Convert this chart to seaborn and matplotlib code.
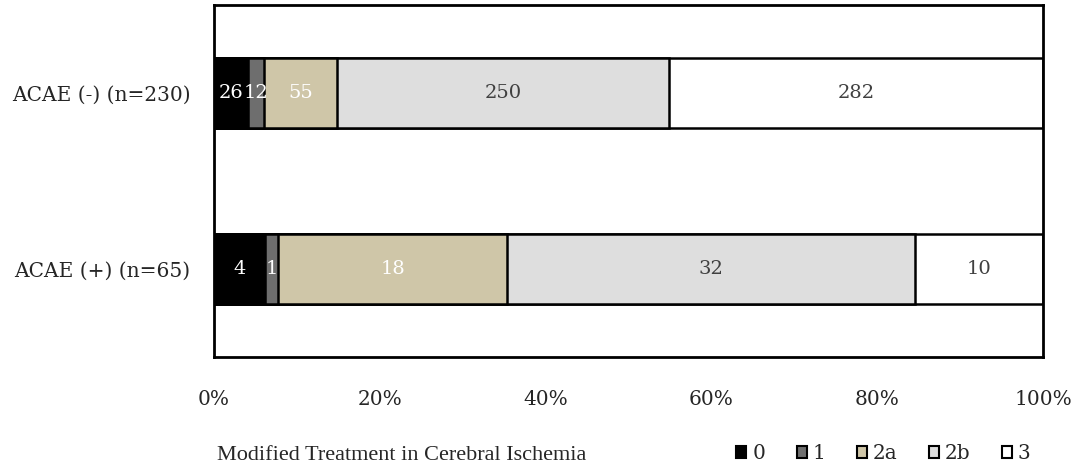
import numpy as np
import pandas as pd
import matplotlib.pyplot as plt
import matplotlib.patches as mpatches
import seaborn as sns

# data
groups = ['ACAE (-) (n=230)', 'ACAE (+) (n=65)']
grades = ['0', '1', '2a', '2b', '3']
counts_neg = [26, 12, 55, 250, 282]
counts_pos = [4, 1, 18, 32, 10]
colors = ['#000000', '#6e6e6e', '#cfc6a8', '#dedede', '#ffffff']
text_colors = ['white', 'white', 'white', '#404040', '#404040']

sns.set_theme(style='white')
plt.rcParams['font.family'] = ['DejaVu Serif']

rows = []
for g, cnts in zip(groups, [counts_neg, counts_pos]):
    cnts = np.array(cnts, dtype=float)
    pct = cnts / cnts.sum() * 100
    cum = np.cumsum(pct)
    for gr, c, p, cu in zip(grades, cnts, pct, cum):
        rows.append(dict(group=g, grade=gr, count=int(c), pct=p, cum=cu))
df = pd.DataFrame(rows)

fig, ax = plt.subplots(figsize=(10.84, 4.75), dpi=100)
fig.subplots_adjust(left=0.1974, right=0.9622, top=0.9895, bottom=0.2484)

# stacked bars: draw cumulative totals from largest to smallest
for gr, col in reversed(list(zip(grades, colors))):
    sub = df[df.grade == gr]
    sns.barplot(data=sub, x='cum', y='group', order=groups, orient='h',
                color=col, saturation=1, width=0.4,
                edgecolor='black', linewidth=1.8, ax=ax)

for gr, tc in zip(grades, text_colors):
    sub = df[df.grade == gr]
    for _, r in sub.iterrows():
        yi = groups.index(r.group)
        ax.text(r.cum - r.pct / 2, yi, str(r['count']), ha='center', va='center',
                color=tc, fontsize=14)

ax.set_xlim(0, 100)
ax.set_ylim(1.5, -0.5)
ax.set_xticks(np.arange(0, 101, 20))
ax.set_xticklabels([f'{v}%' for v in range(0, 101, 20)])
ax.tick_params(axis='x', length=0, pad=24, labelsize=14.5)
ax.tick_params(axis='y', length=0, pad=17, labelsize=14.5)
ax.set_xlabel('')
ax.set_ylabel('')
for s in ax.spines.values():
    s.set_visible(True)
    s.set_color('black')
    s.set_linewidth(2)

fig.text(0.371, 0.042, 'Modified Treatment in Cerebral Ischemia',
         ha='center', va='center', fontsize=16, family='Liberation Serif')
handles = [mpatches.Patch(facecolor=c, edgecolor='black', linewidth=1.5, label=g)
           for g, c in zip(grades, colors)]
fig.legend(handles=handles, loc='center', bbox_to_anchor=(0.815, 0.045), ncol=5,
           frameon=False, fontsize=14.5, handlelength=0.5, handleheight=0.5,
           handletextpad=0.3, columnspacing=1.55, borderpad=0)

plt.savefig('out.png', dpi=100)
